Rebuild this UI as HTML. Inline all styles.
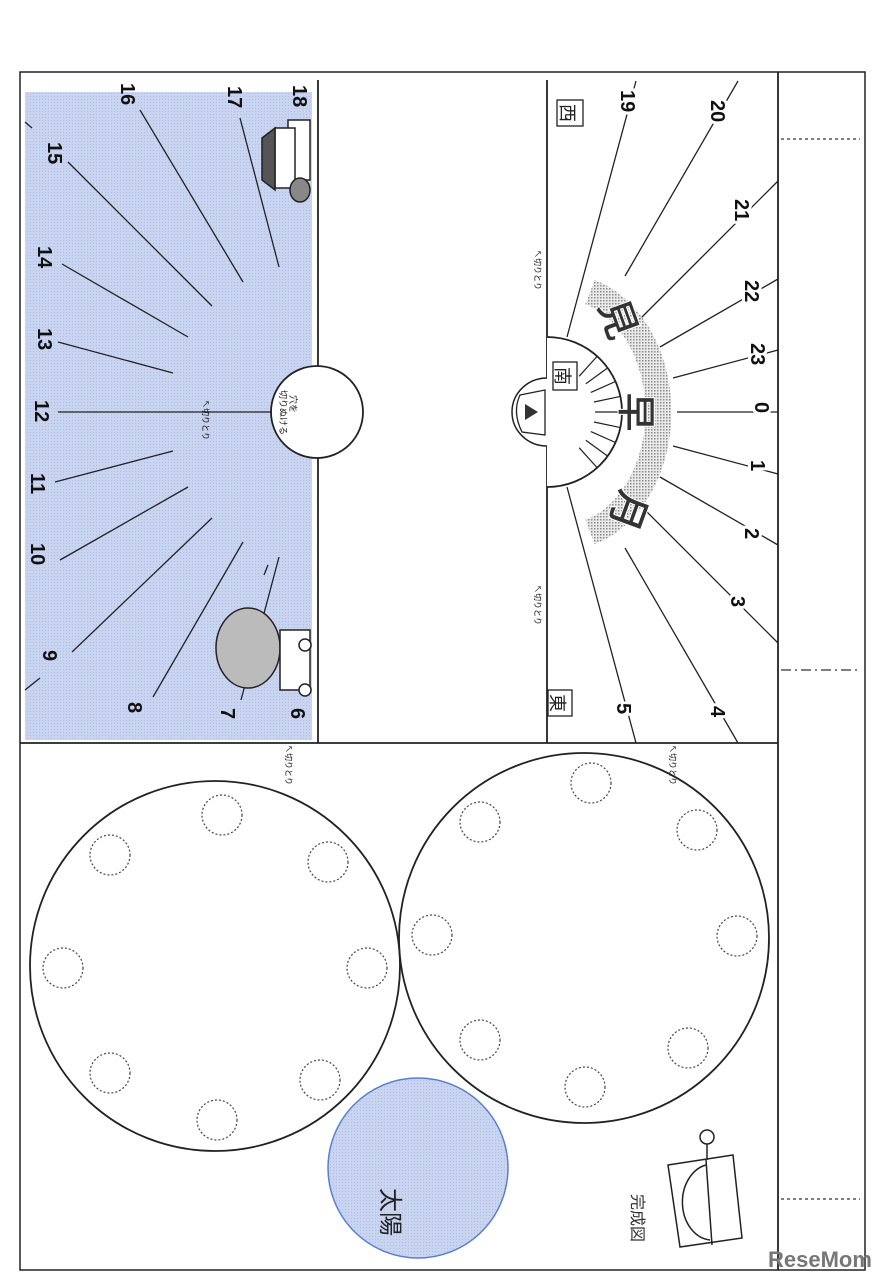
<!DOCTYPE html>
<html><head><meta charset="utf-8"><style>
html,body{margin:0;padding:0;background:#fff}
svg{display:block}
.n{font-family:"Liberation Sans",sans-serif;font-weight:bold;font-size:20px;fill:#111}
.nw{stroke:#fff;stroke-width:6;paint-order:stroke}
.j{font-family:"Liberation Sans","Noto Sans CJK JP",sans-serif}
</style></head><body>
<svg width="880" height="1280" viewBox="0 0 880 1280" xmlns="http://www.w3.org/2000/svg">
<defs>
<pattern id="dot" width="3" height="3" patternUnits="userSpaceOnUse"><rect width="3" height="3" fill="#c9d5f0"/><rect width="1" height="1" fill="#aebfe4"/></pattern>
<pattern id="gd" width="3" height="3" patternUnits="userSpaceOnUse"><rect width="3" height="3" fill="#e6e6e6"/><rect width="1.5" height="1.5" fill="#777"/></pattern>
</defs>
<rect x="0" y="0" width="880" height="1280" fill="#fff"/>
<rect x="20" y="72" width="845" height="1198" fill="none" stroke="#222" stroke-width="1.5"/>
<rect x="25" y="92" width="287" height="648" fill="url(#dot)"/>
<g stroke="#222" stroke-width="1.8" fill="none">
<line x1="778" y1="72" x2="778" y2="1270"/>
<line x1="20" y1="743" x2="778" y2="743"/>
<line x1="318" y1="80" x2="318" y2="743"/>
<line x1="547" y1="80" x2="547" y2="743"/>
</g>
<circle cx="317" cy="412" r="46" fill="#fff" stroke="#222" stroke-width="1.8"/>
<text class="j" font-size="9" transform="translate(290,395) rotate(90)" fill="#222">穴を</text>
<text class="j" font-size="9" transform="translate(280,390) rotate(90)" fill="#222">切りぬける</text>
<g stroke="#222" stroke-width="1.3">
<line x1="279" y1="557" x2="241" y2="700"/>
<line x1="243" y1="542" x2="153" y2="697"/>
<line x1="212" y1="518" x2="72" y2="652"/><line x1="40" y1="678" x2="25" y2="690"/>
<line x1="188" y1="487" x2="60" y2="560"/>
<line x1="173" y1="451" x2="55" y2="482"/>
<line x1="58" y1="412" x2="272" y2="412"/>
<line x1="173" y1="373" x2="58" y2="342"/>
<line x1="188" y1="337" x2="62" y2="264"/>
<line x1="212" y1="306" x2="68" y2="162"/><line x1="32" y1="128" x2="25" y2="122"/>
<line x1="243" y1="282" x2="140" y2="110"/>
<line x1="279" y1="267" x2="240" y2="118"/>
<line x1="264" y1="575" x2="268" y2="565"/>
</g>
<g class="n">
<text transform="translate(291,708) rotate(90)">6</text>
<text transform="translate(221,708) rotate(90)">7</text>
<text transform="translate(128,702) rotate(90)">8</text>
<text transform="translate(43,650) rotate(90)">9</text>
<text transform="translate(31,543) rotate(90)">10</text>
<text transform="translate(31,473) rotate(90)">11</text>
<text transform="translate(35,400) rotate(90)">12</text>
<text transform="translate(38,328) rotate(90)">13</text>
<text transform="translate(38,246) rotate(90)">14</text>
<text transform="translate(48,142) rotate(90)">15</text>
<text transform="translate(121,83) rotate(90)">16</text>
<text transform="translate(228,86) rotate(90)">17</text>
<text transform="translate(293,85) rotate(90)">18</text>
</g>
<g stroke="#222" stroke-width="1.5">
<ellipse cx="248" cy="648" rx="32" ry="40" fill="#bbb"/>
<rect x="280" y="630" width="30" height="60" fill="#fff"/>
<circle cx="305" cy="645" r="6" fill="#fff"/><circle cx="305" cy="690" r="6" fill="#fff"/>
<rect x="288" y="120" width="22" height="60" fill="#fff"/>
<rect x="275" y="128" width="20" height="60" fill="#fff"/>
<path d="M262,138 L275,128 L275,190 L262,180Z" fill="#555"/>
<ellipse cx="300" cy="190" rx="10" ry="12" fill="#888"/>
</g>
<text class="j" font-size="8" transform="translate(203,400) rotate(90)">↖切りとり</text>
<text class="j" font-size="8" transform="translate(286,745) rotate(90)">↖切りとり</text>
<text class="j" font-size="8" transform="translate(670,745) rotate(90)">↖切りとり</text>
<text class="j" font-size="8" transform="translate(535,250) rotate(90)">↖切りとり</text>
<text class="j" font-size="8" transform="translate(535,585) rotate(90)">↖切りとり</text>
<path d="M547,337 A75,75 0 0 1 547,487" fill="#fff" stroke="#222" stroke-width="1.8"/>
<path d="M547,378 A35,34 0 0 0 547,446" fill="#fff" stroke="#222" stroke-width="1.5"/>
<path d="M520,395 L545,390 L545,435 L522,432 Q512,412 520,395Z" fill="#fff" stroke="#222" stroke-width="1.3"/>
<path d="M525,404 L538,412 L525,420Z" fill="#333"/>
<g stroke="#222" stroke-width="1.3">
<line x1="677" y1="412" x2="778" y2="412"/>
<line x1="673" y1="446" x2="778" y2="474"/>
<line x1="660" y1="477" x2="778" y2="545"/>
<line x1="639" y1="504" x2="778" y2="643"/>
<line x1="625" y1="548" x2="738" y2="743"/>
<line x1="567" y1="487" x2="636" y2="743"/>
<line x1="673" y1="378" x2="778" y2="350"/>
<line x1="660" y1="347" x2="778" y2="279"/>
<line x1="639" y1="320" x2="778" y2="181"/>
<line x1="625" y1="276" x2="738" y2="81"/>
<line x1="567" y1="337" x2="636" y2="81"/>
</g>
<g stroke="#222" stroke-width="1.2">
<line x1="595" y1="412" x2="622" y2="412" transform="rotate(0 547 412)"/>
<line x1="595" y1="412" x2="622" y2="412" transform="rotate(12 547 412)"/>
<line x1="595" y1="412" x2="622" y2="412" transform="rotate(24 547 412)"/>
<line x1="595" y1="412" x2="622" y2="412" transform="rotate(36 547 412)"/>
<line x1="595" y1="412" x2="622" y2="412" transform="rotate(48 547 412)"/>
<line x1="595" y1="412" x2="622" y2="412" transform="rotate(-12 547 412)"/>
<line x1="595" y1="412" x2="622" y2="412" transform="rotate(-24 547 412)"/>
<line x1="595" y1="412" x2="622" y2="412" transform="rotate(-36 547 412)"/>
<line x1="595" y1="412" x2="622" y2="412" transform="rotate(-48 547 412)"/>
</g>
<path d="M590,292 A95,125 0 0 1 590,532" fill="none" stroke="url(#gd)" stroke-width="26" opacity="0.85"/>
<g class="j" font-size="40" font-weight="bold" fill="#333" stroke="#fff" stroke-width="1">
<text transform="translate(598,305) rotate(70)">見</text>
<text transform="translate(622,392) rotate(90)">早</text>
<text transform="translate(622,487) rotate(110)">月</text>
</g>
<g class="j" font-size="18" fill="#222">
<rect x="548" y="690" width="24" height="26" fill="#fff" stroke="#222" stroke-width="1.3"/>
<text transform="translate(551,694) rotate(90)">東</text>
<rect x="553" y="362" width="24" height="28" fill="#fff" stroke="#222" stroke-width="1.3"/>
<text transform="translate(556,367) rotate(90)">南</text>
<rect x="557" y="100" width="26" height="26" fill="#fff" stroke="#222" stroke-width="1.3"/>
<text transform="translate(561,104) rotate(90)">西</text>
</g>
<g class="n">
<text class="nw" transform="translate(755,402) rotate(90)">0</text>
<text class="nw" transform="translate(751,460) rotate(90)">1</text>
<text class="nw" transform="translate(745,528) rotate(90)">2</text>
<text class="nw" transform="translate(731,596) rotate(90)">3</text>
<text class="nw" transform="translate(711,706) rotate(90)">4</text>
<text class="nw" transform="translate(617,703) rotate(90)">5</text>
<text class="nw" transform="translate(751,343) rotate(90)">23</text>
<text class="nw" transform="translate(745,280) rotate(90)">22</text>
<text class="nw" transform="translate(735,199) rotate(90)">21</text>
<text class="nw" transform="translate(711,100) rotate(90)">20</text>
<text class="nw" transform="translate(621,90) rotate(90)">19</text>
</g>
<g stroke="#333" stroke-width="1.3" stroke-dasharray="3,3">
<line x1="781" y1="139" x2="860" y2="139"/>
<line x1="781" y1="1199" x2="860" y2="1199"/>
</g>
<line x1="781" y1="670" x2="860" y2="670" stroke="#333" stroke-width="1.3" stroke-dasharray="10,4,2,4"/>
<g fill="none" stroke="#222" stroke-width="1.8">
<circle cx="215" cy="966" r="185"/>
<circle cx="584" cy="938" r="185"/>
</g>
<g fill="none" stroke="#444" stroke-width="1.2" stroke-dasharray="2,2">
<circle cx="222" cy="815" r="20"/><circle cx="328" cy="862" r="20"/><circle cx="367" cy="968" r="20"/><circle cx="320" cy="1080" r="20"/>
<circle cx="217" cy="1120" r="20"/><circle cx="110" cy="1073" r="20"/><circle cx="63" cy="968" r="20"/><circle cx="110" cy="855" r="20"/>
<circle cx="591" cy="783" r="20"/><circle cx="697" cy="830" r="20"/><circle cx="737" cy="936" r="20"/><circle cx="688" cy="1048" r="20"/>
<circle cx="585" cy="1087" r="20"/><circle cx="480" cy="1040" r="20"/><circle cx="432" cy="935" r="20"/><circle cx="480" cy="822" r="20"/>
</g>
<circle cx="418" cy="1168" r="90" fill="url(#dot)" stroke="#5a7fd0" stroke-width="1.5"/>
<text class="j" font-size="24" transform="translate(382,1188) rotate(90)" fill="#222">太陽</text>
<text class="j" font-size="16" transform="translate(632,1194) rotate(90)" fill="#333">完成図</text>
<g stroke="#222" stroke-width="1.5" fill="#fff">
<path d="M668,1165 L733,1155 L742,1238 L680,1247Z"/>
<circle cx="707" cy="1137" r="7"/>
<line x1="707" y1="1144" x2="707" y2="1160"/>
<path d="M706,1165 A30,38 0 0 0 710,1240" fill="none"/>
<line x1="706" y1="1160" x2="712" y2="1245"/>
</g>
<text x="768" y="1267" font-family="Liberation Sans,sans-serif" font-weight="bold" font-size="22" fill="#777">ReseMom</text>
</svg>
</body></html>
